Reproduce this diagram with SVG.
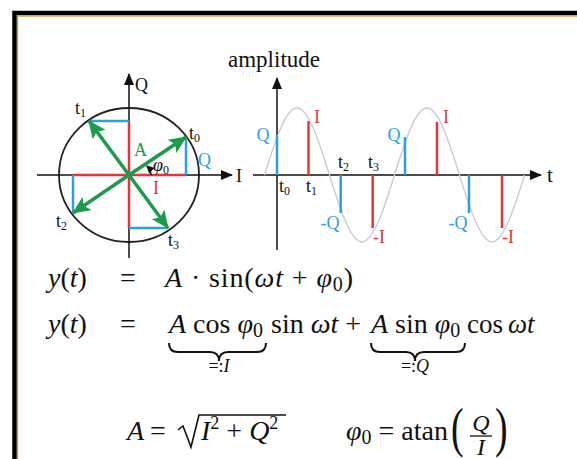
<svg xmlns="http://www.w3.org/2000/svg" width="577" height="459" viewBox="0 0 577 459">
<style>
text{font-family:"Liberation Serif","Times New Roman",serif;fill:#111}
.lb{font-size:18px}
.eq{font-size:28px}
.i{font-style:italic}
.red{fill:#e0363c}
.blue{fill:#29a3dc}
.green{fill:#1e9b4a}
.ax{stroke:#111;stroke-width:1.5;fill:none}
.rl{stroke:#e0363c;stroke-width:2.5;fill:none}
.bl{stroke:#29a3dc;stroke-width:2.5;fill:none}
.gl{stroke:#1e9b4a;stroke-width:3.5;fill:none}
.br{stroke:#111;stroke-width:2;fill:none}
</style>
<defs>
<marker id="ah" markerUnits="userSpaceOnUse" markerWidth="12" markerHeight="12" viewBox="0 0 12 12" refX="11" refY="6" orient="auto"><path d="M0,1 L12,6 L0,11 Z" fill="#111"/></marker>
<marker id="sh" markerUnits="userSpaceOnUse" markerWidth="8" markerHeight="8" viewBox="0 0 8 8" refX="7" refY="4" orient="auto"><path d="M0,0 L8,4 L0,8 Z" fill="#111"/></marker>
<marker id="gh" markerUnits="userSpaceOnUse" markerWidth="18" markerHeight="16" viewBox="0 0 18 16" refX="17" refY="8" orient="auto"><path d="M0,0 L18,8 L0,16 L4,8 Z" fill="#1e9b4a"/></marker>
</defs>
<rect x="0" y="0" width="577" height="459" fill="#fff"/>
<g id="frame">
<rect x="14.5" y="13" width="620" height="520" fill="none" stroke="#000" stroke-width="4.5"/>
<rect x="17.5" y="16" width="620" height="520" fill="none" stroke="#e08a1e" stroke-width="1.2"/>
</g>
<g id="phasor">
<ellipse cx="129" cy="175" rx="70" ry="67" fill="none" stroke="#222" stroke-width="1.8"/>
<line class="ax" x1="37" y1="175" x2="232" y2="175" marker-end="url(#ah)"/>
<line class="ax" x1="129" y1="258" x2="129" y2="74" marker-end="url(#ah)"/>
<line class="rl" x1="129" y1="175" x2="186" y2="175"/>
<line class="rl" x1="129" y1="175" x2="129" y2="121"/>
<line class="rl" x1="129" y1="175" x2="73" y2="175"/>
<line class="rl" x1="129" y1="175" x2="129" y2="228"/>
<line class="bl" x1="186" y1="175" x2="186" y2="137"/>
<line class="bl" x1="129" y1="121" x2="89" y2="121"/>
<line class="bl" x1="73" y1="175" x2="73" y2="213"/>
<line class="bl" x1="129" y1="228" x2="168" y2="228"/>
<line class="gl" x1="129" y1="175" x2="186" y2="137" marker-end="url(#gh)"/>
<line class="gl" x1="129" y1="175" x2="89" y2="121" marker-end="url(#gh)"/>
<line class="gl" x1="129" y1="175" x2="73" y2="213" marker-end="url(#gh)"/>
<line class="gl" x1="129" y1="175" x2="168" y2="228" marker-end="url(#gh)"/>
<path class="ax" d="M151,175 Q151,170 147,166" stroke-width="1.3" marker-end="url(#sh)"/>
<text class="lb" x="135" y="91">Q</text>
<text class="lb" x="236" y="182">I</text>
<text class="lb green" x="134" y="156">A</text>
<text class="lb" x="153" y="171"><tspan class="i">φ</tspan><tspan font-size="12" dy="3">0</tspan></text>
<text class="lb red" x="153" y="194">I</text>
<text class="lb blue" x="198" y="166">Q</text>
<text class="lb" x="189" y="139">t<tspan font-size="12" dy="3">0</tspan></text>
<text class="lb" x="75" y="114">t<tspan font-size="12" dy="3">1</tspan></text>
<text class="lb" x="56" y="227">t<tspan font-size="12" dy="3">2</tspan></text>
<text class="lb" x="168" y="246">t<tspan font-size="12" dy="3">3</tspan></text>
</g>
<g id="timeplot">
<text x="228" y="67" font-size="23">amplitude</text>
<line class="ax" x1="277" y1="250" x2="277" y2="78" marker-end="url(#ah)"/>
<line class="ax" x1="253" y1="175" x2="541" y2="175" marker-end="url(#ah)"/>
<path d="M264.5,175 C275.1,140.7 285.7,108 297,108 C308.3,108 318.9,140.7 329.5,175 C340.1,209.3 350.7,242 362,242 C373.3,242 383.9,209.3 394.5,175 C405.1,140.7 415.7,108 427,108 C438.3,108 448.9,140.7 459.5,175 C470.1,209.3 480.7,242 492,242 C503.3,242 513.9,209.3 524.5,175" fill="none" stroke="#c9c6d6" stroke-width="1.3"/>
<line class="bl" x1="277" y1="175" x2="277" y2="136"/>
<line class="rl" x1="308.5" y1="175" x2="308.5" y2="121"/>
<line class="bl" x1="340.7" y1="175" x2="340.7" y2="213"/>
<line class="rl" x1="372.7" y1="175" x2="372.7" y2="228"/>
<line class="bl" x1="405" y1="175" x2="405" y2="137"/>
<line class="rl" x1="437" y1="175" x2="437" y2="122"/>
<line class="bl" x1="469" y1="175" x2="469" y2="213"/>
<line class="rl" x1="502" y1="175" x2="502" y2="228"/>
<text class="lb blue" x="263" y="141" text-anchor="middle">Q</text>
<text class="lb red" x="317" y="123" text-anchor="middle">I</text>
<text class="lb blue" x="330" y="229" text-anchor="middle">-Q</text>
<text class="lb red" x="379" y="243" text-anchor="middle">-I</text>
<text class="lb blue" x="394" y="141" text-anchor="middle">Q</text>
<text class="lb red" x="446" y="123" text-anchor="middle">I</text>
<text class="lb blue" x="458" y="229" text-anchor="middle">-Q</text>
<text class="lb red" x="508" y="243" text-anchor="middle">-I</text>
<text class="lb" x="279" y="192">t<tspan font-size="12" dy="3">0</tspan></text>
<text class="lb" x="306" y="192">t<tspan font-size="12" dy="3">1</tspan></text>
<text class="lb" x="338" y="168">t<tspan font-size="12" dy="3">2</tspan></text>
<text class="lb" x="368" y="168">t<tspan font-size="12" dy="3">3</tspan></text>
<text x="547" y="182" font-size="21">t</text>
</g>
<g id="equations">
<text class="eq" x="48" y="287"><tspan class="i">y</tspan>(<tspan class="i">t</tspan>)</text>
<text class="eq" x="120" y="287">=</text>
<text class="eq" x="165" y="287" textLength="188" lengthAdjust="spacing"><tspan class="i">A</tspan> · sin(<tspan class="i">ωt</tspan> + <tspan class="i">φ</tspan><tspan font-size="20" dy="4">0</tspan><tspan dy="-4">)</tspan></text>
<text class="eq" x="48" y="333"><tspan class="i">y</tspan>(<tspan class="i">t</tspan>)</text>
<text class="eq" x="120" y="333">=</text>
<text class="eq" x="169" y="333"><tspan class="i">A</tspan> cos <tspan class="i">φ</tspan><tspan font-size="20" dy="4">0</tspan></text>
<text class="eq" x="271" y="333">sin <tspan class="i">ωt</tspan> +</text>
<text class="eq" x="371" y="333"><tspan class="i">A</tspan> sin <tspan class="i">φ</tspan><tspan font-size="20" dy="4">0</tspan></text>
<text x="467" y="333" font-size="27">cos<tspan class="i" dx="5">ωt</tspan></text>
<path class="br" d="M169,343 Q169,352 178,352 L210,352 Q219,352 219,361 Q219,352 228,352 L257,352 Q266,352 266,343"/>
<path class="br" d="M371,343 Q371,352 380,352 L406,352 Q415,352 415,361 Q415,352 424,352 L456,352 Q465,352 465,343"/>
<text x="219" y="372" font-size="18" text-anchor="middle">=:<tspan class="i">I</tspan></text>
<text x="415" y="372" font-size="18" text-anchor="middle">=:<tspan class="i">Q</tspan></text>
<text class="eq" x="127" y="440"><tspan class="i">A</tspan><tspan dx="6">=</tspan></text>
<path d="M178,430 L183,426 L191,447 L199,415 L286,415" fill="none" stroke="#111" stroke-width="1.6"/>
<text class="eq" x="201" y="440"><tspan class="i">I</tspan><tspan font-size="18" dy="-11">2</tspan><tspan dy="11"> + </tspan><tspan class="i">Q</tspan><tspan font-size="18" dy="-11">2</tspan></text>
<text class="eq" x="346" y="440"><tspan class="i">φ</tspan><tspan font-size="20" dy="4">0</tspan><tspan dy="-4"> = atan</tspan></text>
<text transform="translate(451,446) scale(0.7,1)" font-size="54">(</text>
<text transform="translate(495,446) scale(0.7,1)" font-size="54">)</text>
<text x="481" y="431" font-size="24" class="i" text-anchor="middle">Q</text>
<line x1="470" y1="436" x2="492" y2="436" stroke="#111" stroke-width="1.3"/>
<text x="481" y="455" font-size="24" class="i" text-anchor="middle">I</text>
</g>
</svg>
